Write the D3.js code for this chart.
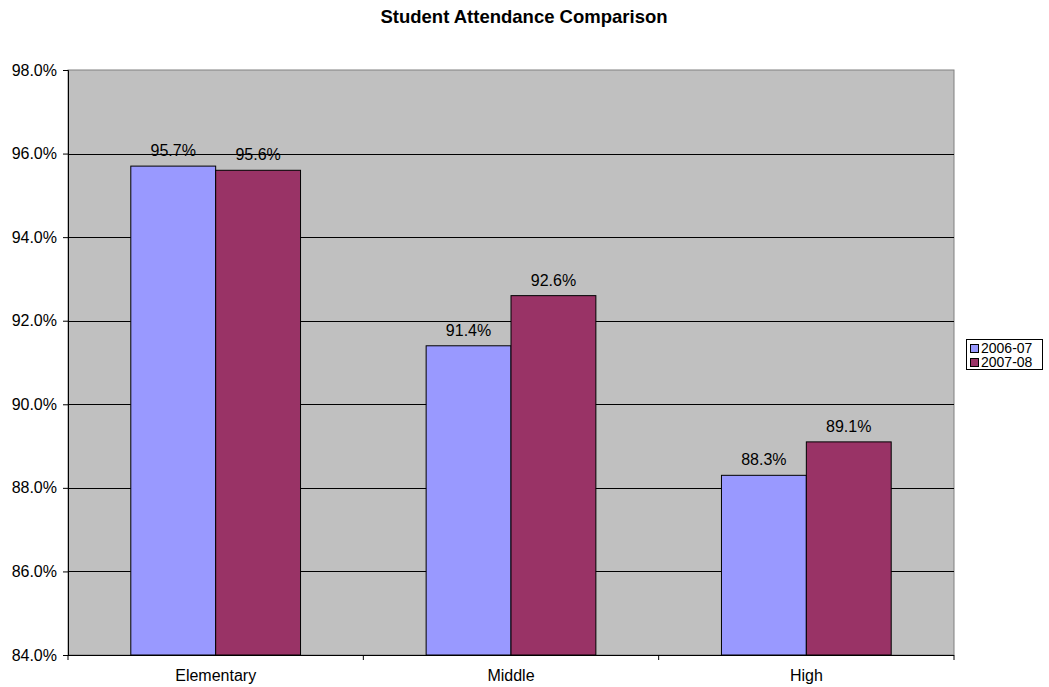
<!DOCTYPE html>
<html lang="en">
<head>
<meta charset="UTF-8">
<title>Student Attendance Comparison</title>
<script src="https://cdn.jsdelivr.net/npm/d3@7"></script>
<style>
  body { margin: 0; background: #fff; }
  text { font-family: "Liberation Sans", Arial, sans-serif; fill: #000; }
</style>
</head>
<body>
<script>
var categories = ["Elementary", "Middle", "High"];
var seriesNames = ["2006-07", "2007-08"];
var values0607 = [95.7, 91.4, 88.3];
var values0708 = [95.6, 92.6, 89.1];
var yTicks = [84, 86, 88, 90, 92, 94, 96, 98];
var colors = ["#9999FF", "#993366"];

var width = 1049, height = 687;
var margin = {left: 68, right: 95, top: 70, bottom: 32};

var svg = d3.select("body").append("svg")
    .attr("width", width)
    .attr("height", height);

var x = d3.scaleBand()
    .domain(categories)
    .range([margin.left, width - margin.right]);
var x1 = d3.scaleBand()
    .domain(seriesNames)
    .range([0, x.bandwidth()])
    .paddingOuter(0.74)
    .paddingInner(0);
var y = d3.scaleLinear()
    .domain([84, 98])
    .range([height - margin.bottom, margin.top]);

// plot background
svg.append("rect")
    .attr("x", margin.left)
    .attr("y", margin.top)
    .attr("width", width - margin.right - margin.left)
    .attr("height", height - margin.bottom - margin.top)
    .attr("fill", "#C0C0C0")
    .attr("stroke", "#808080")
    .attr("stroke-width", 1);

// gridlines
svg.selectAll(".grid")
    .data(yTicks.slice(1, -1))
    .enter()
    .append("line")
    .attr("x1", margin.left)
    .attr("x2", width - margin.right)
    .attr("y1", function(d) { return Math.round(y(d)) + 0.5; })
    .attr("y2", function(d) { return Math.round(y(d)) + 0.5; })
    .attr("stroke", "#000")
    .attr("stroke-width", 1);

// bars
var rows = categories.map(function(c, i) {
    return {cat: c, vals: [values0607[i], values0708[i]]};
});
var groups = svg.selectAll(".grp")
    .data(rows)
    .enter()
    .append("g")
    .attr("transform", function(d) { return "translate(" + x(d.cat) + ",0)"; });

groups.selectAll("rect")
    .data(function(d) { return d.vals.map(function(v, j) { return {s: seriesNames[j], v: v, j: j}; }); })
    .enter()
    .append("rect")
    .attr("x", function(d) { return x1(d.s); })
    .attr("y", function(d) { return y(d.v); })
    .attr("width", x1.bandwidth())
    .attr("height", function(d) { return y(84) - y(d.v); })
    .attr("fill", function(d) { return colors[d.j]; })
    .attr("stroke", "#000")
    .attr("stroke-width", 1);

groups.selectAll(".lbl")
    .data(function(d) { return d.vals.map(function(v, j) { return {s: seriesNames[j], v: v}; }); })
    .enter()
    .append("text")
    .attr("x", function(d) { return x1(d.s) + x1.bandwidth() / 2; })
    .attr("y", function(d) { return y(d.v) - 10; })
    .attr("text-anchor", "middle")
    .attr("font-size", 16)
    .text(function(d) { return d.v.toFixed(1) + "%"; });

// y axis
var yAxis = svg.append("g")
    .attr("transform", "translate(" + margin.left + ",0)")
    .call(d3.axisLeft(y).tickValues(yTicks).tickSize(5).tickPadding(6)
        .tickFormat(function(d) { return d.toFixed(1) + "%"; }));
yAxis.selectAll("text").attr("font-size", 16).style("font-family", "Liberation Sans, Arial, sans-serif");
yAxis.select(".domain").attr("stroke", "#000");

// x axis
var xAxisG = svg.append("g")
    .attr("transform", "translate(0," + (height - margin.bottom) + ")");
xAxisG.append("line")
    .attr("x1", margin.left).attr("x2", width - margin.right)
    .attr("y1", 0.5).attr("y2", 0.5)
    .attr("stroke", "#000");
xAxisG.selectAll(".xt")
    .data(categories.concat(["end"]))
    .enter()
    .append("line")
    .attr("x1", function(d, i) { return i < categories.length ? x(d) : x.range()[1]; })
    .attr("x2", function(d, i) { return i < categories.length ? x(d) : x.range()[1]; })
    .attr("y1", 0)
    .attr("y2", 5)
    .attr("stroke", "#000");
xAxisG.selectAll(".xl")
    .data(categories)
    .enter()
    .append("text")
    .attr("x", function(d) { return x(d) + x.bandwidth() / 2; })
    .attr("y", 26)
    .attr("text-anchor", "middle")
    .attr("font-size", 16)
    .text(function(d) { return d; });

// title
svg.append("text")
    .attr("x", 524)
    .attr("y", 23)
    .attr("text-anchor", "middle")
    .attr("font-size", 18.5)
    .attr("font-weight", "bold")
    .text("Student Attendance Comparison");

// legend
var legend = svg.append("g").attr("transform", "translate(966,339)");
legend.append("rect")
    .attr("x", 0.5).attr("y", 0.5)
    .attr("width", 76).attr("height", 30)
    .attr("fill", "#fff")
    .attr("stroke", "#000");
seriesNames.forEach(function(s, i) {
    legend.append("rect")
        .attr("x", 4.5).attr("y", 5.5 + i * 14)
        .attr("width", 8).attr("height", 8)
        .attr("fill", colors[i])
        .attr("stroke", "#000");
    legend.append("text")
        .attr("x", 15).attr("y", 14 + i * 14)
        .attr("font-size", 14)
        .text(s);
});
</script>
</body>
</html>
